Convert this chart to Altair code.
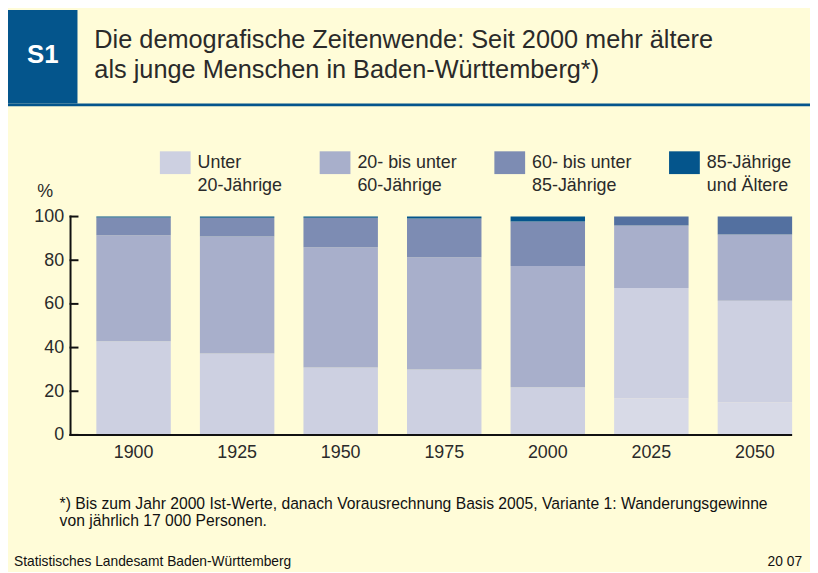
import altair as alt
import pandas as pd

# ---------------- data ----------------
years = ["1900", "1925", "1950", "1975", "2000", "2025", "2050"]
projection_years = ["2025", "2050"]
groups = [
    "Unter|20-Jährige",
    "20- bis unter|60-Jährige",
    "60- bis unter|85-Jährige",
    "85-Jährige|und Ältere",
]
under20 = [42.9, 37.3, 30.9, 30.0, 21.8, 16.8, 15.0]
age20_60 = [48.5, 53.6, 55.0, 51.4, 55.5, 50.5, 46.4]
age60_85 = [8.2, 8.6, 13.6, 17.7, 20.4, 28.6, 30.4]
age85 = [0.4, 0.5, 0.5, 0.9, 2.3, 4.1, 8.2]
y_ticks = [0, 20, 40, 60, 80, 100]

hist_colors = ["#cdd0e1", "#a8afcb", "#7d8cb3", "#04558c"]
proj_colors = ["#d8dae7", "#cdd0e1", "#a8afcb", "#5370a0"]

title_lines = [
    "Die demografische Zeitenwende: Seit 2000 mehr ältere",
    "als junge Menschen in Baden-Württemberg*)",
]
footnote_lines = [
    "*) Bis zum Jahr 2000 Ist-Werte, danach Vorausrechnung Basis 2005, Variante 1: Wanderungsgewinne",
    "von jährlich 17 000 Personen.",
]
source = "Statistisches Landesamt Baden-Württemberg"
stamp = "20 07"

# ---------------- table ----------------
series = [under20, age20_60, age60_85, age85]
rows = []
for gi, (g, vals) in enumerate(zip(groups, series)):
    for y, v in zip(years, vals):
        key = ("P:" + g) if y in projection_years else g
        rows.append({"year": y, "group": g, "key": key, "order": gi, "value": v})
df = pd.DataFrame(rows)

color_domain = groups + ["P:" + g for g in groups]
color_range = hist_colors + proj_colors

FONT = "Liberation Sans"
TXT = "#2a2a2a"
AXC = "#111111"
W, H = 727, 220

y_scale = alt.Scale(domain=[0, 100], nice=False)

bars = alt.Chart(df).mark_bar(strokeWidth=0).encode(
    x=alt.X(
        "year:N",
        sort=years,
        scale=alt.Scale(range=[26, 727], paddingInner=0.281, paddingOuter=0),
        axis=alt.Axis(
            title=None, ticks=False, domain=False, labelPadding=9,
            labelFontSize=18, labelFont=FONT, labelColor=TXT, labelAngle=0,
        ),
    ),
    y=alt.Y(
        "value:Q",
        stack="zero",
        scale=y_scale,
        axis=alt.Axis(
            values=y_ticks, ticks=False, grid=False, domain=False,
            labelPadding=7, labelFontSize=18, labelFont=FONT,
            labelColor=TXT, title="%", titleAngle=0, titleAlign="left",
            titleBaseline="alphabetic", titleX=-34, titleY=-20,
            titleFontSize=18, titleFontWeight="normal", titleFont=FONT,
            titleColor=TXT,
        ),
    ),
    color=alt.Color(
        "key:N",
        scale=alt.Scale(domain=color_domain, range=color_range),
        legend=alt.Legend(
            orient="none", legendX=90, legendY=-70, direction="horizontal",
            columns=4, title=None, values=groups,
            labelExpr="split(datum.label, '|')",
            symbolType="M-1,-0.74L1,-0.74L1,0.74L-1,0.74Z",
            symbolSize=961, symbolStrokeWidth=0, symbolOpacity=1,
            labelFontSize=18, labelFont=FONT, labelColor=TXT,
            columnPadding=37, labelOffset=7, labelLimit=250, padding=0,
        ),
    ),
    order=alt.Order("order:Q", sort="ascending"),
)

tick_df = pd.DataFrame({"v": y_ticks})
ticks = alt.Chart(tick_df).mark_rule(color=AXC, strokeWidth=2).encode(
    y=alt.Y("v:Q", scale=y_scale),
    x=alt.value(-1),
    x2=alt.value(8),
)

one = pd.DataFrame({"a": [0]})

yaxis_line = alt.Chart(one).mark_rule(color=AXC, strokeWidth=2).encode(
    x=alt.value(0), y=alt.value(-1), y2=alt.value(H + 1),
)
xaxis_line = alt.Chart(one).mark_rule(color=AXC, strokeWidth=2).encode(
    y=alt.datum(0, scale=y_scale), x=alt.value(-1), x2=alt.value(W)
)

header_box = alt.Chart(one).mark_rect(color="#04558c").encode(
    x=alt.value(-63), x2=alt.value(7), y=alt.value(-208), y2=alt.value(-114)
)
header_line = alt.Chart(one).mark_rect(color="#04558c").encode(
    x=alt.value(-63), x2=alt.value(W + 20), y=alt.value(-114), y2=alt.value(-111)
)
s1 = alt.Chart(one).mark_text(
    font=FONT, fontSize=26, fontWeight="bold", color="white",
    align="center", baseline="middle",
).encode(x=alt.value(-28), y=alt.value(-163), text=alt.value("S1"))

title = alt.Chart(one).mark_text(
    font=FONT, fontSize=25.5, color=TXT, align="left", baseline="alphabetic",
    lineHeight=30,
).encode(x=alt.value(24), y=alt.value(-170), text=alt.value(title_lines))

foot = alt.Chart(one).mark_text(
    font=FONT, fontSize=15.8, color="#111111", align="left",
    baseline="alphabetic", lineHeight=16.5,
).encode(x=alt.value(-11), y=alt.value(295), text=alt.value(footnote_lines))

src = alt.Chart(one).mark_text(
    font=FONT, fontSize=13.9, color="#111111", align="left", baseline="alphabetic",
).encode(x=alt.value(-57), y=alt.value(352), text=alt.value(source))

stamp_t = alt.Chart(one).mark_text(
    font=FONT, fontSize=13.9, color="#111111", align="right", baseline="alphabetic",
).encode(x=alt.value(737), y=alt.value(352), text=alt.value(stamp))

chart = alt.layer(
    header_box, header_line, s1, title, bars, ticks, yaxis_line, xaxis_line,
    foot, src, stamp_t
).properties(
    width=W,
    height=H,
    autosize=alt.AutoSizeParams(type="none"),
    padding={"left": 63, "top": 208, "right": 18, "bottom": 136},
    background="#fffcd8",
).configure(
    style={"guide-label": {"lineHeight": 24}},
    view=alt.ViewConfig(stroke=None),
)

chart.save("out.html", embed_options={"renderer": "svg", "actions": False})
